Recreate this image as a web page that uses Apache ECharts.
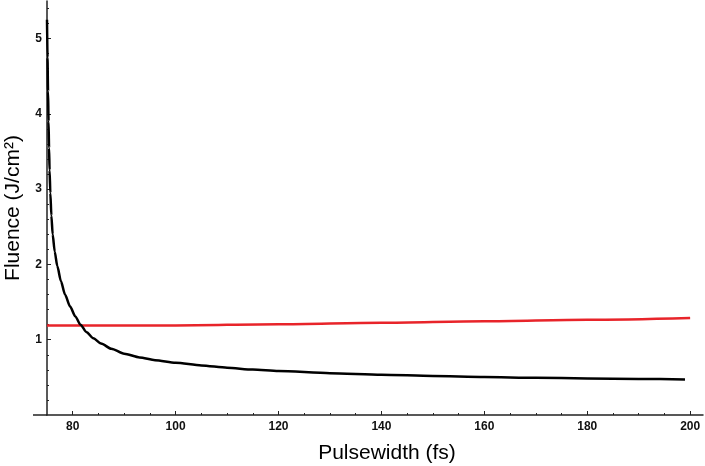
<!DOCTYPE html>
<html>
<head>
<meta charset="utf-8">
<script src="https://cdn.jsdelivr.net/npm/echarts@6/dist/echarts.min.js"></script>
<style>
html,body{margin:0;padding:0;background:#fff;}
#c{width:705px;height:466px;}
</style>
</head>
<body>
<div id="c"></div>
<script>
// Black curve: pulsewidth (fs) vs fluence (J/cm^2)
const blackX = [75.0, 75.1, 75.2, 75.3, 75.4, 75.5, 75.65, 75.85, 76.1, 76.5, 77.0, 77.7, 78.5, 79.5, 80.5, 81.5, 82.7, 84.0, 85.5, 87.5, 90, 93, 96, 100, 105, 110, 115, 120, 130, 140, 150, 160, 170, 180, 190, 199];
const blackY = [5.25, 4.75, 4.3, 3.9, 3.55, 3.25, 2.95, 2.65, 2.4, 2.17, 1.98, 1.78, 1.60, 1.44, 1.31, 1.20, 1.10, 1.02, 0.95, 0.88, 0.815, 0.765, 0.728, 0.695, 0.658, 0.628, 0.604, 0.585, 0.556, 0.535, 0.518, 0.505, 0.494, 0.486, 0.479, 0.473];
// Red curve
const redX = [75, 90, 100, 120, 140, 160, 180, 200];
const redY = [1.19, 1.19, 1.19, 1.205, 1.225, 1.245, 1.265, 1.29];
// Ticks
const xMajorTicks = [80, 100, 120, 140, 160, 180, 200];
const xMinorTicks = [85, 90, 95, 105, 110, 115, 125, 130, 135, 145, 150, 155, 165, 170, 175, 185, 190, 195];
const yMajorTicks = [1, 2, 3, 4, 5];
const yMinorTicks = [0.2, 0.4, 0.6, 0.8, 1.2, 1.4, 1.6, 1.8, 2.2, 2.4, 2.6, 2.8, 3.2, 3.4, 3.6, 3.8, 4.2, 4.4, 4.6, 4.8, 5.2, 5.4];
const xTitle = 'Pulsewidth (fs)';
const yTitle = 'Fluence (J/cm²)';

const toPairs = (xs, ys) => xs.map((x, i) => [x, ys[i]]);
const axisColor = '#222';
const labelStyle = {fontFamily: 'Liberation Sans', fontWeight: 'bold', fontSize: 12, color: '#111'};
const titleStyle = {fontFamily: 'Liberation Sans', fontSize: 21, color: '#000'};

const chart = echarts.init(document.getElementById('c'), null, {renderer: 'canvas'});
const option = {
  animation: false,
  backgroundColor: '#fff',
  grid: {left: 47, right: 2, top: 1, bottom: 51, containLabel: false, outerBoundsMode: 'none'},
  xAxis: [{
    type: 'value', min: 75, max: 202.5,
    name: xTitle, nameLocation: 'middle', nameGap: 28, nameMoveOverlap: false,
    nameTextStyle: Object.assign({padding: [0, 0, 0, 24]}, titleStyle),
    axisLine: {show: true, lineStyle: {color: axisColor, width: 1.5}},
    axisTick: {show: true, inside: true, length: 4, customValues: xMajorTicks, lineStyle: {color: axisColor, width: 1}},
    axisLabel: Object.assign({customValues: xMajorTicks, margin: 6}, labelStyle),
    splitLine: {show: false}
  }, {
    type: 'value', min: 75, max: 202.5, position: 'bottom',
    axisLine: {show: false},
    axisTick: {show: true, inside: true, length: 2, customValues: xMinorTicks, lineStyle: {color: axisColor, width: 1}},
    axisLabel: {show: false},
    splitLine: {show: false}
  }],
  yAxis: [{
    type: 'value', min: 0, max: 5.5,
    name: yTitle, nameLocation: 'middle', nameGap: 23, nameMoveOverlap: false,
    nameTextStyle: titleStyle,
    axisLine: {show: true, lineStyle: {color: axisColor, width: 1.5}},
    axisTick: {show: true, inside: true, length: 4, customValues: yMajorTicks, lineStyle: {color: axisColor, width: 1}},
    axisLabel: Object.assign({customValues: yMajorTicks, margin: 5}, labelStyle),
    splitLine: {show: false}
  }, {
    type: 'value', min: 0, max: 5.5, position: 'left',
    axisLine: {show: false},
    axisTick: {show: true, inside: true, length: 2, customValues: yMinorTicks, lineStyle: {color: axisColor, width: 1}},
    axisLabel: {show: false},
    splitLine: {show: false}
  }],
  series: [{
    type: 'line', name: 'red', data: toPairs(redX, redY),
    xAxisIndex: 0, yAxisIndex: 0,
    showSymbol: false, smooth: 0.3, smoothMonotone: 'x',
    lineStyle: {color: '#e8242a', width: 2.5}, z: 3
  }, {
    type: 'line', name: 'black', data: toPairs(blackX, blackY),
    xAxisIndex: 0, yAxisIndex: 0,
    showSymbol: false, smooth: 0.25, smoothMonotone: 'x',
    lineStyle: {color: '#000', width: 2.5}, z: 4
  }]
};
chart.setOption(option);
// extend x-axis line a bit to the left of the y axis (Mathematica-style crossing)
const origin = chart.convertToPixel({xAxisIndex: 0, yAxisIndex: 0}, [75, 0]);
chart.setOption({
  graphic: [{
    type: 'line', silent: true,
    shape: {x1: origin[0] - 14, y1: origin[1], x2: origin[0], y2: origin[1]},
    style: {stroke: axisColor, lineWidth: 1.5}
  }]
});
</script>
</body>
</html>
